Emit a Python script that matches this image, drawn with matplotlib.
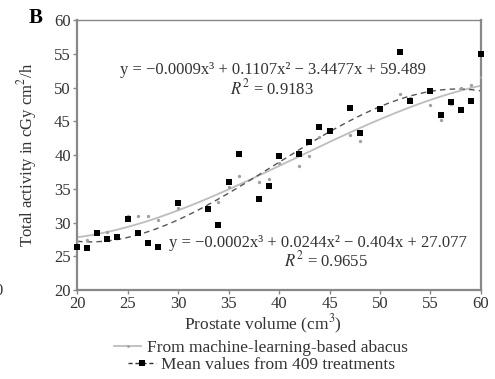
import numpy as np
import matplotlib
matplotlib.use("Agg")
import matplotlib.pyplot as plt
from matplotlib.lines import Line2D

plt.rcParams['font.family'] = ['Liberation Serif', 'DejaVu Serif']
plt.rcParams['mathtext.fontset'] = 'stix'

# prostate volume (cm3)
volume = [20, 21, 22, 23, 24, 25, 26, 27, 28, 30, 33, 34, 35, 36, 38, 39, 40,
          42, 43, 44, 45, 47, 48, 50, 52, 53, 55, 56, 57, 58, 59, 60]
# mean values from 409 treatments
mean_vals = [26.4, 26.2, 28.4, 27.5, 27.8, 30.5, 28.5, 26.9, 26.4, 32.9, 32.0, 29.7,
             36.0, 40.2, 33.5, 35.4, 39.8, 40.2, 42.0, 44.2, 43.6, 46.9, 43.3,
             46.8, 55.2, 48.0, 49.5, 46.0, 47.9, 46.7, 48.0, 55.0]
# from machine-learning-based abacus
abacus_vals = [27.2, 27.4, 28.5, 28.6, 28.2, 31.0, 31.0, 31.0, 30.4, 32.1, 32.0, 33.0,
               35.3, 36.9, 36.0, 36.5, 38.8, 38.3, 39.9, 42.7, 43.7, 43.0, 42.1,
               47.1, 49.1, 48.5, 47.4, 45.2, 47.5, 50.0, 50.3, 51.5]

x = np.array(volume)
xs = np.linspace(20, 60, 200)
fit_mean = np.polyval(np.polyfit(x, mean_vals, 3), xs)
fit_aba = np.polyval(np.polyfit(x, abacus_vals, 3), xs)

txt = '#333333'
fig = plt.figure(figsize=(4.95, 3.79), dpi=100)
ax = fig.add_axes([0.1556, 0.2348, 0.8161, 0.7124])

ax.plot(xs, fit_aba, color='#bdbdbd', lw=1.3, zorder=2)
ax.plot(xs, fit_mean, color='#555555', lw=1.0, ls=(0, (4, 3)), zorder=2)
ax.plot(x, abacus_vals, 'o', color='#a0a0a0', ms=2.4, mew=0, zorder=3)
ax.plot(x, mean_vals, 's', color='black', ms=4.2, mew=0, zorder=4, clip_on=False)

ax.set_xlim(20, 60)
ax.set_ylim(20, 60)
ax.set_xticks(range(20, 61, 5))
ax.set_yticks(range(20, 61, 5))
for s in ax.spines.values():
    s.set_color('#888888')
    s.set_linewidth(1.6)
ax.spines['top'].set_linewidth(1.0)
ax.tick_params(direction='out', length=3, width=1, color='#888888',
               labelsize=12, pad=1.5, labelcolor=txt)

ax.set_xlabel('Prostate volume (cm$^3$)', fontsize=12.5, color=txt, labelpad=1)
ax.xaxis.set_label_coords(0.46, -0.085)
ax.set_ylabel('Total activity in cGy cm$^2$/h', fontsize=12, color=txt)
ax.yaxis.set_label_coords(-0.093, 0.5)

ax.text(0.485, 0.815, 'y = \u22120.0009x\u00b3 + 0.1107x\u00b2 \u2212 3.4477x + 59.489',
        transform=ax.transAxes, ha='center', va='center', fontsize=12, color=txt)
ax.text(0.483, 0.748, '$R^2$ = 0.9183', transform=ax.transAxes, ha='center', va='center',
        fontsize=12, color=txt)
ax.text(0.597, 0.174, 'y = \u22120.0002x\u00b3 + 0.0244x\u00b2 \u2212 0.404x + 27.077',
        transform=ax.transAxes, ha='center', va='center', fontsize=12, color=txt)
ax.text(0.616, 0.111, '$R^2$ = 0.9655', transform=ax.transAxes, ha='center', va='center',
        fontsize=12, color=txt)

fig.text(0.057, 0.952, 'B', fontsize=15, fontweight='bold', ha='left', va='center')
fig.text(-0.012, 0.232, '0', fontsize=12, ha='left', va='center', color=txt)

h1 = Line2D([], [], color='#bdbdbd', lw=1.3, marker='o', ms=2, mfc='#a0a0a0', mew=0)
h2 = Line2D([], [], color='#333333', lw=1.0, ls=(0, (3, 2)), marker='s', ms=4,
            mfc='black', mew=0)
fig.legend([h1], ['From machine-learning-based abacus'], loc='center left',
           bbox_to_anchor=(0.212, 0.082), frameon=False, fontsize=12.5,
           handlelength=1.6, handletextpad=0.3, borderpad=0, labelcolor=txt)
fig.legend([h2], ['Mean values from 409 treatments'], loc='center left',
           bbox_to_anchor=(0.242, 0.037), frameon=False, fontsize=12.5,
           handlelength=1.6, handletextpad=0.3, borderpad=0, labelcolor=txt)

fig.savefig('out.png', dpi=100)
